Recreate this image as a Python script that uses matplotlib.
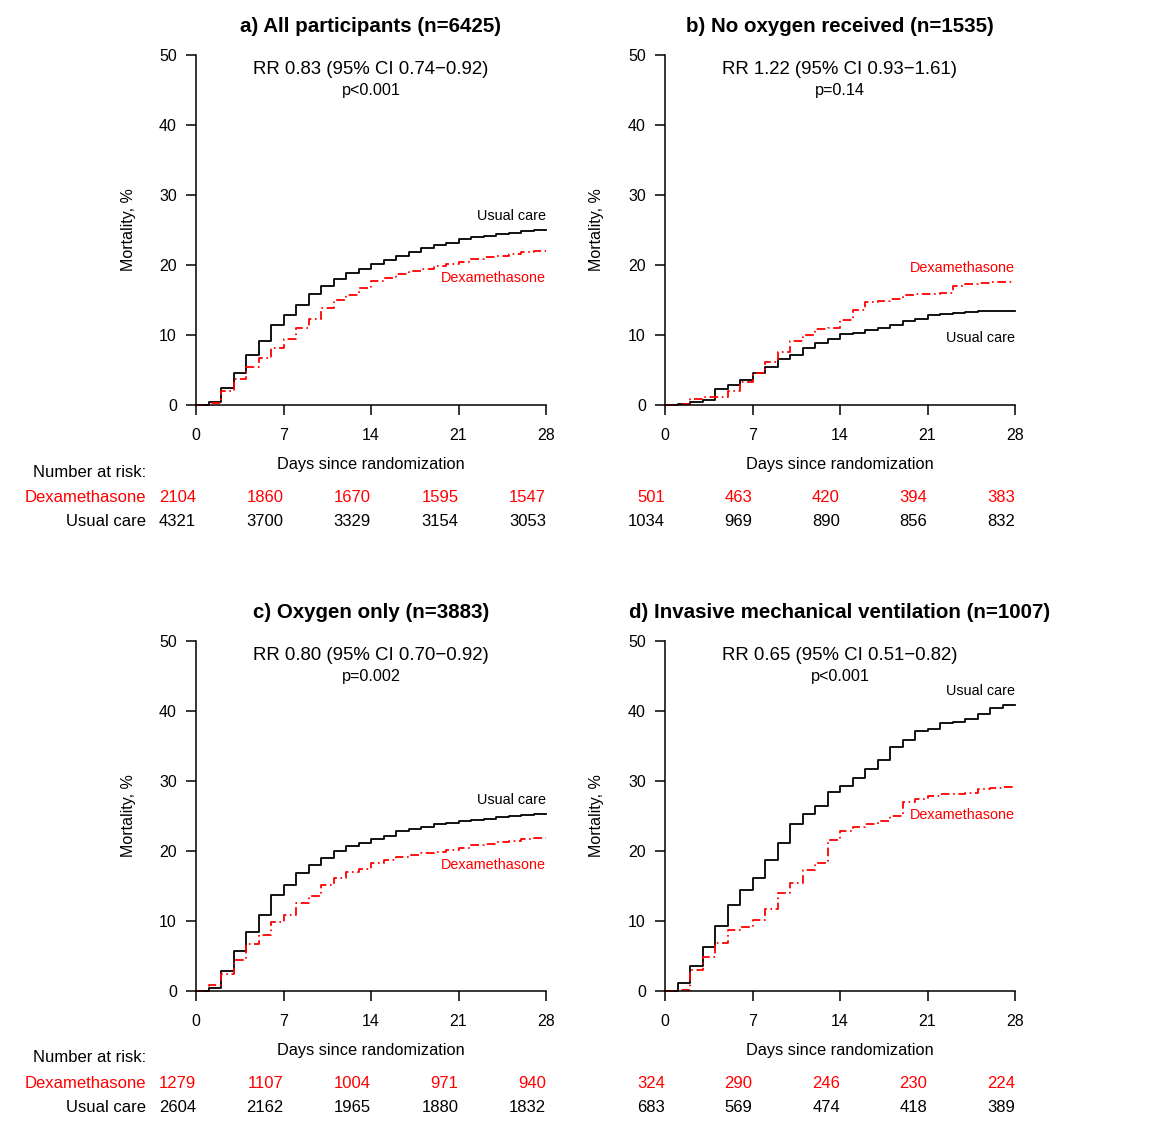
import matplotlib
matplotlib.use("Agg")
import matplotlib.pyplot as plt
import numpy as np

plt.rcParams['font.family'] = ['Liberation Sans', 'DejaVu Sans']

days = np.arange(29)
risk_days = [0, 7, 14, 21, 28]

titles = ["a) All participants (n=6425)", "b) No oxygen received (n=1535)",
          "c) Oxygen only (n=3883)", "d) Invasive mechanical ventilation (n=1007)"]
rr_text = ["RR 0.83 (95% CI 0.74\u22120.92)", "RR 1.22 (95% CI 0.93\u22121.61)",
           "RR 0.80 (95% CI 0.70\u22120.92)", "RR 0.65 (95% CI 0.51\u22120.82)"]
p_text = ["p<0.001", "p=0.14", "p=0.002", "p<0.001"]

# cumulative mortality (%) at days 0..27 (step after each day)
usual_a = [0, 0.5, 2.5, 4.6, 7.1, 9.2, 11.4, 12.9, 14.3, 15.8, 17.0, 18.0, 18.9, 19.5,
           20.2, 20.7, 21.3, 21.8, 22.4, 22.8, 23.2, 23.7, 24.0, 24.2, 24.4, 24.6, 24.9, 25.0]
dexa_a = [0, 0.3, 2.0, 3.7, 5.4, 6.7, 8.2, 9.4, 11.0, 12.3, 13.8, 15.0, 15.7, 16.7,
          17.7, 18.2, 18.7, 19.1, 19.4, 19.8, 20.1, 20.5, 20.8, 21.1, 21.3, 21.6, 21.8, 22.0]
usual_b = [0, 0.2, 0.5, 0.7, 2.3, 2.8, 3.6, 4.6, 5.5, 6.6, 7.2, 8.1, 8.8, 9.5,
           10.1, 10.3, 10.7, 11.0, 11.4, 12.0, 12.3, 12.8, 13.0, 13.2, 13.3, 13.4, 13.5, 13.5]
dexa_b = [0, 0.1, 0.8, 1.2, 1.2, 2.0, 3.3, 4.6, 6.1, 7.6, 9.1, 10.0, 10.9, 11.0,
          12.1, 13.6, 14.7, 14.8, 15.2, 15.7, 15.9, 15.9, 16.0, 17.0, 17.3, 17.4, 17.6, 17.6]
usual_c = [0, 0.4, 2.9, 5.7, 8.4, 10.9, 13.7, 15.2, 16.8, 18.0, 19.0, 20.0, 20.7, 21.1,
           21.7, 22.2, 22.8, 23.1, 23.5, 23.8, 24.0, 24.3, 24.4, 24.6, 24.8, 25.0, 25.1, 25.3]
dexa_c = [0, 0.8, 2.5, 4.4, 6.7, 8.0, 9.9, 10.9, 12.6, 13.6, 15.2, 16.2, 17.0, 17.5,
          18.3, 18.7, 19.2, 19.5, 19.7, 19.8, 20.1, 20.5, 20.8, 21.0, 21.3, 21.5, 21.7, 21.9]
usual_d = [0, 1.2, 3.6, 6.3, 9.3, 12.3, 14.5, 16.2, 18.7, 21.2, 23.8, 25.3, 26.5, 28.5,
           29.3, 30.5, 31.7, 33.0, 34.9, 35.9, 37.1, 37.4, 38.3, 38.4, 38.9, 39.6, 40.4, 40.8]
dexa_d = [0, 0.2, 3.0, 4.9, 6.8, 8.7, 9.1, 10.2, 11.7, 14.0, 15.5, 17.3, 18.3, 21.6,
          22.9, 23.5, 23.8, 24.3, 25.0, 27.0, 27.4, 27.9, 28.2, 28.2, 28.3, 28.8, 29.0, 29.1]

risk_dexa_a = [2104, 1860, 1670, 1595, 1547]
risk_usual_a = [4321, 3700, 3329, 3154, 3053]
risk_dexa_b = [501, 463, 420, 394, 383]
risk_usual_b = [1034, 969, 890, 856, 832]
risk_dexa_c = [1279, 1107, 1004, 971, 940]
risk_usual_c = [2604, 2162, 1965, 1880, 1832]
risk_dexa_d = [324, 290, 246, 230, 224]
risk_usual_d = [683, 569, 474, 418, 389]

usual = [usual_a, usual_b, usual_c, usual_d]
dexa = [dexa_a, dexa_b, dexa_c, dexa_d]
risk_dexa = [risk_dexa_a, risk_dexa_b, risk_dexa_c, risk_dexa_d]
risk_usual = [risk_usual_a, risk_usual_b, risk_usual_c, risk_usual_d]

W, H = 1162, 1146
fig = plt.figure(figsize=(W / 100, H / 100), dpi=100)

# axes boxes in pixels: left, top
boxes = [(196, 55), (665, 55), (196, 641), (665, 641)]
aw, ah = 350, 350

for k in range(4):
    left, top = boxes[k]
    ax = fig.add_axes([left / W, 1 - (top + ah) / H, aw / W, ah / H])
    ax.set_xlim(0, 28)
    ax.set_ylim(0, 50)
    for s in ['top', 'right']:
        ax.spines[s].set_visible(False)
    for s in ['left', 'bottom']:
        ax.spines[s].set_linewidth(1.1)
    ax.set_xticks(risk_days)
    ax.set_yticks([0, 10, 20, 30, 40, 50])
    ax.tick_params(length=7.2, width=1.1, labelsize=11.5)
    ax.tick_params(axis='y', pad=6.5)
    ax.tick_params(axis='x', pad=9.5)

    u = list(usual[k]) + [usual[k][-1]]
    d = list(dexa[k]) + [dexa[k][-1]]
    ax.step(days, u, where='post', color='black', lw=1.3, clip_on=False)
    ax.step(days, d, where='post', color='red', lw=1.3, clip_on=False,
            linestyle=(0, (4.8, 2.0, 0.9, 2.0)))

    # curve labels
    if u[-1] > d[-1]:
        uy, dy = u[-1] + 2.0, d[-1] - 3.9
    else:
        uy, dy = u[-1] - 3.9, d[-1] + 2.0
    ax.text(28, uy, "Usual care", ha='right', va='center', fontsize=10.4, color='black')
    ax.text(28, dy, "Dexamethasone", ha='right', va='center', fontsize=10.4, color='red')

    ax.text(0.5, 1 + 28.5 / ah, titles[k], transform=ax.transAxes, ha='center', va='center',
            fontsize=14.8, fontweight='bold')
    ax.text(0.5, 1 - 14 / ah, rr_text[k], transform=ax.transAxes, ha='center', va='center',
            fontsize=13.4)
    ax.text(0.5, 1 - 35 / ah, p_text[k], transform=ax.transAxes, ha='center', va='center',
            fontsize=11.7)
    ax.text(-68 / aw, 0.5, "Mortality, %", transform=ax.transAxes, rotation=90,
            ha='center', va='center', fontsize=11.5)
    ax.text(0.5, -59 / ah, "Days since randomization", transform=ax.transAxes,
            ha='center', va='center', fontsize=11.8)

    # number at risk table
    tr = ax.get_xaxis_transform()
    for x, n1, n2 in zip(risk_days, risk_dexa[k], risk_usual[k]):
        ax.text(x, -92 / ah, str(n1), transform=tr, ha='right', va='center',
                fontsize=12, color='red', clip_on=False)
        ax.text(x, -116 / ah, str(n2), transform=tr, ha='right', va='center',
                fontsize=12, color='black', clip_on=False)
    if k % 2 == 0:
        ax.text(-4.0, -67 / ah, "Number at risk:", transform=tr, ha='right', va='center',
                fontsize=12)
        ax.text(-4.0, -92 / ah, "Dexamethasone", transform=tr, ha='right', va='center',
                fontsize=12, color='red')
        ax.text(-4.0, -116 / ah, "Usual care", transform=tr, ha='right', va='center',
                fontsize=12)

fig.savefig("out.png", dpi=100)
